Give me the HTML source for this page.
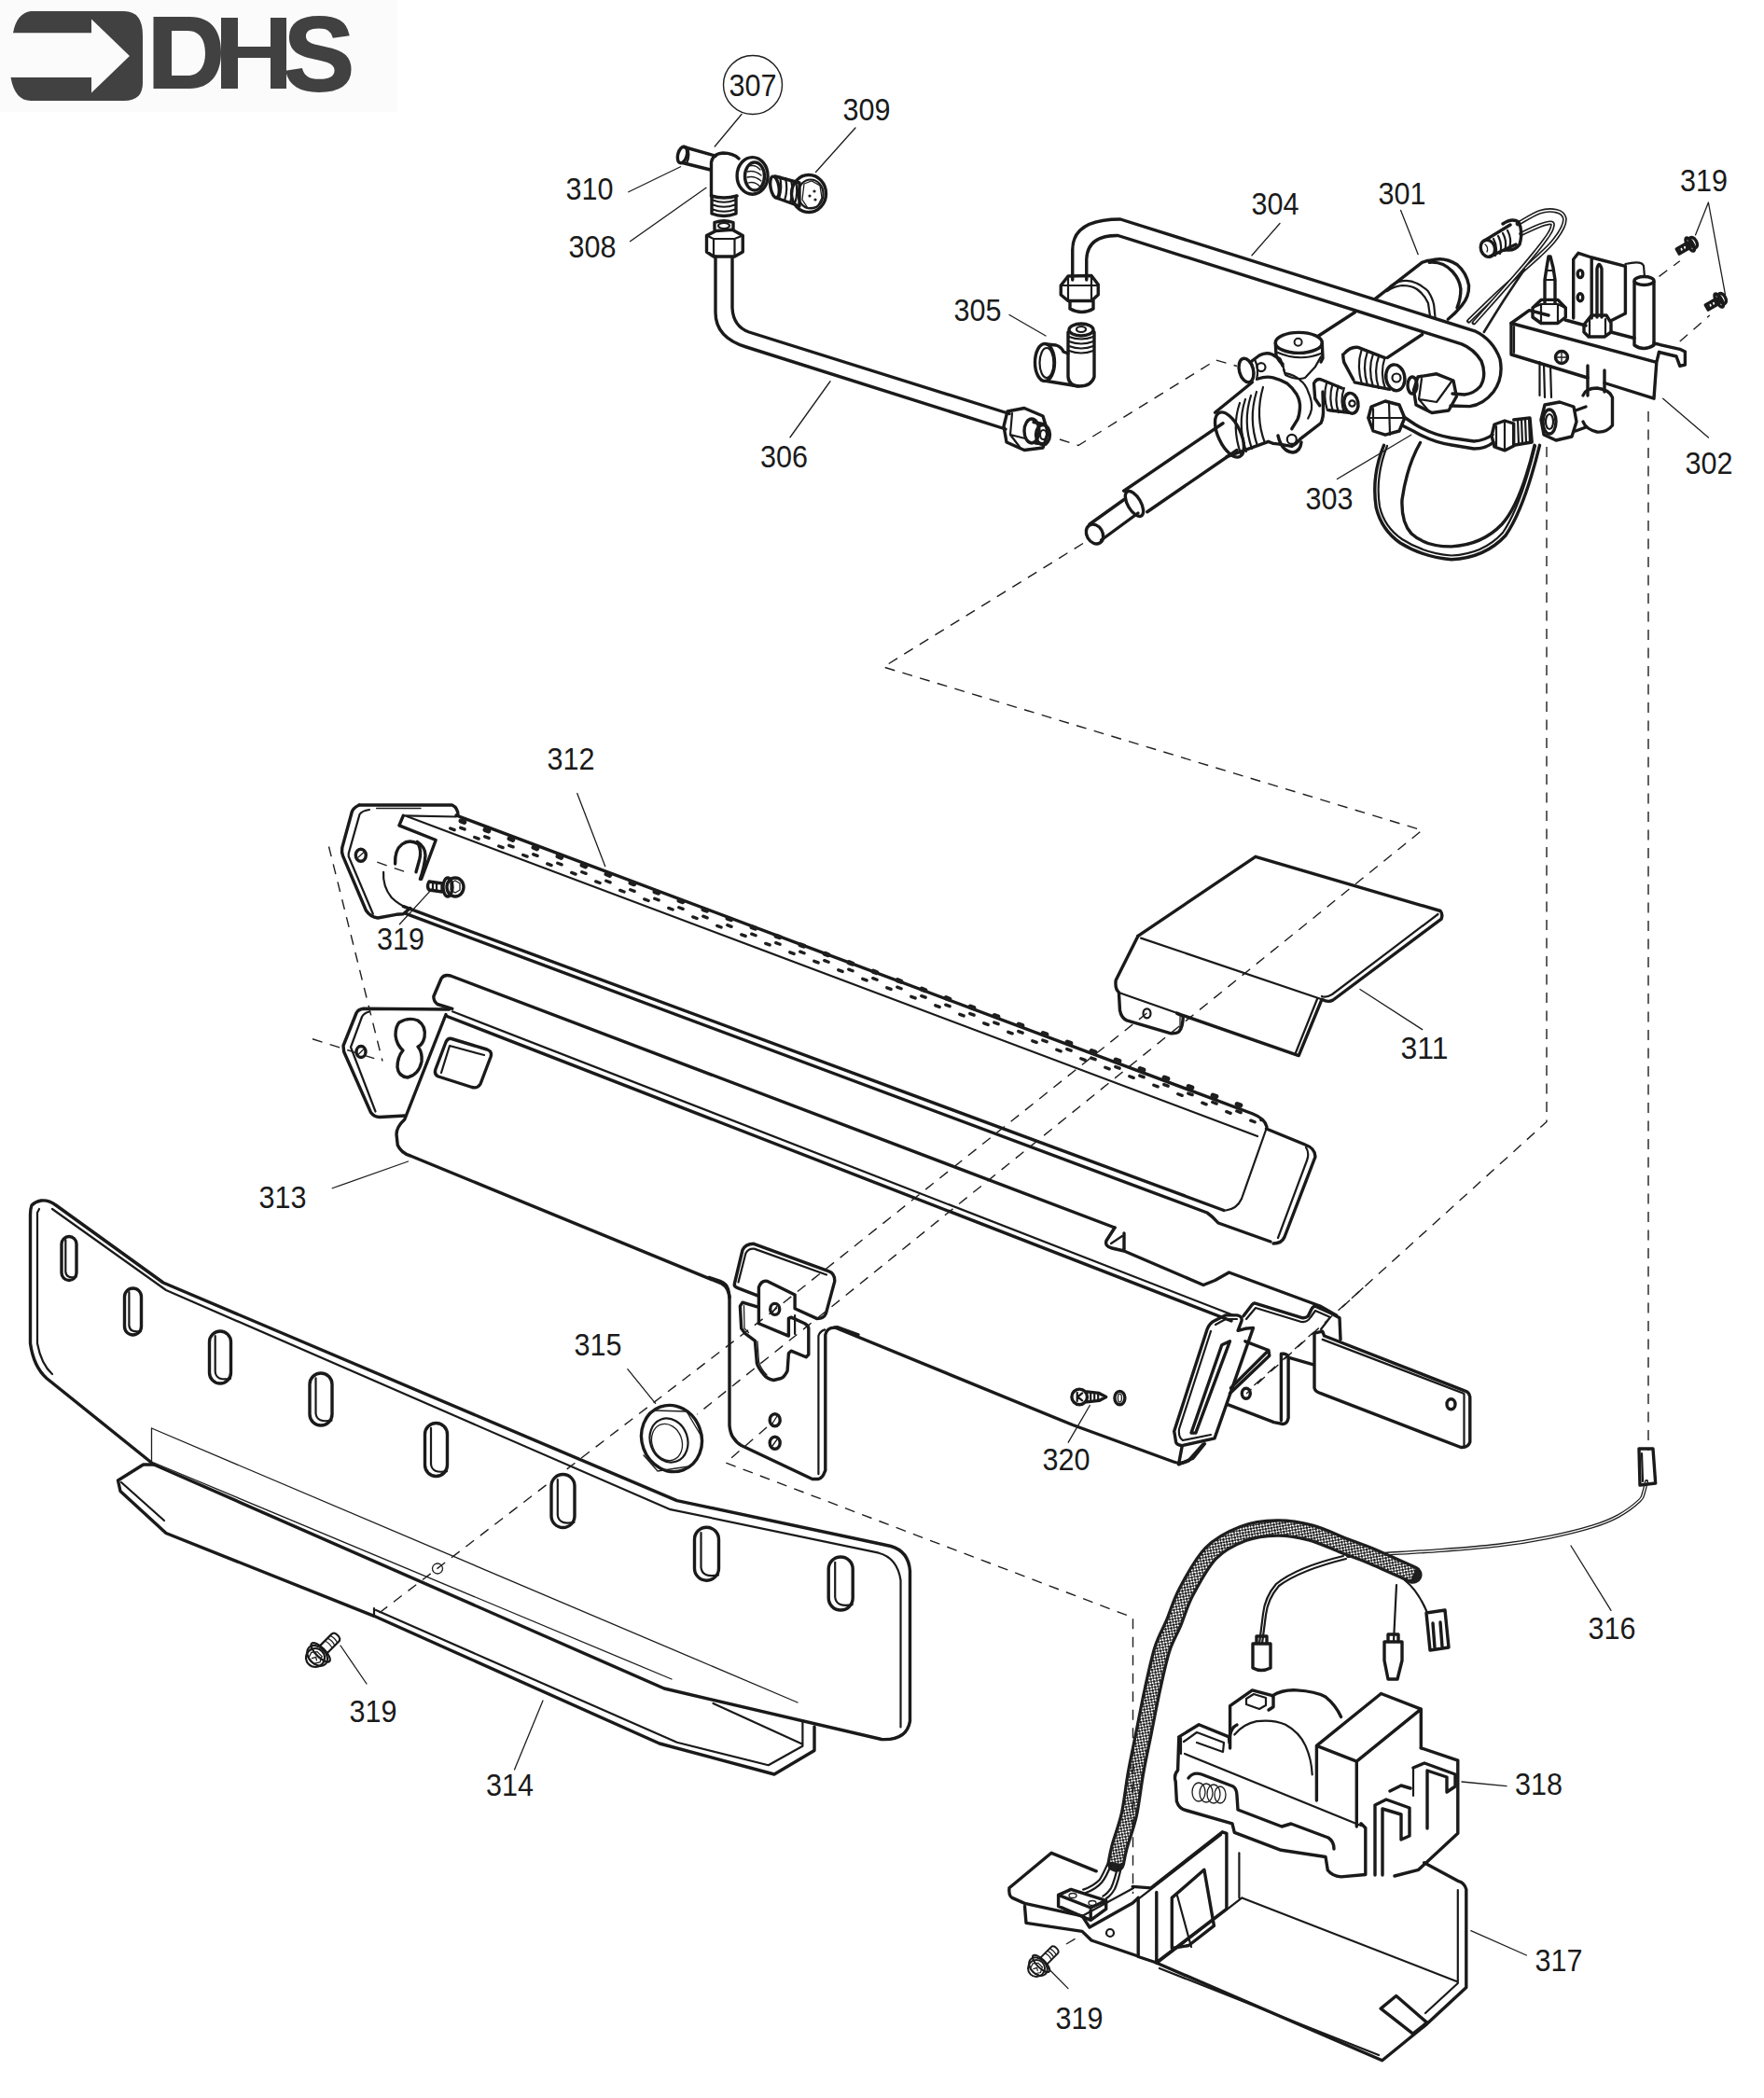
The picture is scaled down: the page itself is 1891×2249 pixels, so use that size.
<!DOCTYPE html>
<html><head><meta charset="utf-8">
<style>
html,body{margin:0;padding:0;background:#fff;}
body{width:1891px;height:2249px;overflow:hidden;}
svg{display:block;}
.k{stroke:#1a1a1a;stroke-width:3.4;fill:none;stroke-linejoin:round;stroke-linecap:round;}
.m{stroke:#1a1a1a;stroke-width:2.2;fill:none;stroke-linejoin:round;stroke-linecap:round;}
.t{stroke:#1e1e1e;stroke-width:1.3;fill:none;stroke-linecap:round;}
.d{stroke:#1e1e1e;stroke-width:1.4;fill:none;stroke-dasharray:11 8.5;}
.w{fill:#fff;}
text{font-family:"Liberation Sans",sans-serif;font-size:32.5px;fill:#1a1a1a;}
</style></head>
<body>
<svg width="1891" height="2249" viewBox="0 0 1891 2249">
<defs>
<pattern id="chk" width="4.4" height="4.4" patternUnits="userSpaceOnUse" patternTransform="rotate(35)">
<rect width="4.4" height="4.4" fill="#fff"/><rect width="2.5" height="2.5" fill="#1a1a1a"/><rect x="2.2" y="2.2" width="2.5" height="2.5" fill="#1a1a1a"/>
</pattern>
</defs>
<rect x="0" y="0" width="1891" height="2249" fill="#fff"/>
<!-- LOGO -->
<g id="logo">
<rect x="0" y="0" width="426" height="120" fill="#fbfbfb"/>
<path fill="#414141" d="M33,12 L133,12 Q153,12 153,38 L153,89 Q153,108 133,108 L33,108 Q16,108 11.5,83 L98,83 L98,99.5 L139,60 L98,20.4 L98,35.2 L14,35.2 Q18,14 33,12 Z"/>
<path fill="#414141" fill-rule="evenodd" d="M164.5,18 L203,18 C229,18 237,36 237,56 C237,79 226,95 203,95 L164.5,95 Z M184,33 L201,33 C215,33 220,44 220,57 C220,71 214,81 201,81 L184,81 Z"/>
<path fill="#414141" d="M237,19 L255,19 L255,50 L290,50 L290,19 L307,19 L307,95 L290,95 L290,62 L255,62 L255,95 L237,95 Z"/>
<text x="304" y="97" style="font-weight:bold;font-size:113px;fill:#414141;stroke:#414141;stroke-width:2" textLength="76" lengthAdjust="spacingAndGlyphs">S</text>
</g>
<!-- CONTENT -->

<g id="main">
<!-- ===== 312 burner ===== -->
<g id="p312">
<!-- end plate -->
<path class="k" d="M385,863 L484.7,863 Q491,866 491,874"/>
<path class="k" d="M385,863 Q378,866 376.8,872 L366.8,908.6 Q366,914 367.5,917.3 L392.4,976 Q397,983 405,984 L424.8,980.3 L432.3,979.7 L439.8,973.5"/>
<path class="m" d="M396,868 Q388,869 385.5,873 L373.7,914.9 L373.7,918 L399.9,979.7"/>
<path class="t" d="M403.6,866.5 L451,866.5"/>
<ellipse class="k" cx="386.8" cy="916.7" rx="5.5" ry="6.5"/>
<path class="t" d="M384,919 L389.5,914"/>
<path class="k" d="M423.6,926 Q423,911 431,905 Q439,899 448.5,904.9 Q452,912 449.8,921 L446,934.8"/>
<path class="k" d="M447.3,902.4 Q456,908 456,917 Q455,930 450.4,942.3"/>
<path class="m" d="M411.1,934.8 Q410,950 419.8,962.2 Q428,970 437.3,973.5"/>
<path class="d" d="M404.3,924.2 L434.8,934.8"/>
<!-- strip flange -->
<path class="k" d="M432.3,874.3 L427.9,884.9 L467.2,900.5 L451.6,942.3"/>
<!-- top line + strip -->
<path class="k" d="M489,874 L1343,1194 Q1356,1199 1358,1208"/>
<path class="m" d="M432.3,874.3 L489,875.5"/>
<path class="m" d="M436,875 L1348,1218"/>
<!-- front face bottom double line -->
<path class="k" d="M432.4,971.7 L1312,1297.5"/>
<path class="k" d="M435.6,979.7 L1294,1300 Q1300,1304 1306,1311 L1362,1331"/>

<g id="perf"><path d="M494.12,879.95 L1352.00,1193.08" stroke="#1e1e1e" stroke-width="5.2" fill="none" stroke-linecap="round" stroke-dasharray="3.80 23.88"/><path d="M493.74,887.31 L1352.00,1200.58" stroke="#1e1e1e" stroke-width="3.4" fill="none" stroke-linecap="round" stroke-dasharray="4.60 23.08"/><path d="M482.74,888.00 L1352.00,1205.28" stroke="#1e1e1e" stroke-width="3.4" fill="none" stroke-linecap="round" stroke-dasharray="4.60 23.08"/></g>
<!-- right end cap -->
<path class="k" d="M1357.5,1210 L1399,1227 Q1410,1231 1410,1240 L1377,1326 Q1374,1333 1365,1333"/>
<path class="m" d="M1400,1230 Q1404,1236 1401,1244 L1370,1327"/>
<path class="m" d="M1357.5,1210 L1331,1285 Q1326,1296 1314,1297.5"/>
</g>
<!-- ===== 313 tray ===== -->
<g id="p313">
<!-- end plate -->
<path class="k" d="M481.6,1082 L389.5,1081.3 Q384,1082 382,1086 L368,1121 L368.7,1127.5 L397.5,1192.5 Q401,1197.5 407,1197.5 L434,1196"/>
<path class="m" d="M396,1084.5 Q390,1086 388,1090 L376,1122.5 L402.5,1191.5"/>
<ellipse class="k" cx="387" cy="1127.5" rx="5" ry="6"/>
<path class="t" d="M384.5,1130 L389.5,1125"/>
<path class="k" d="M428,1096 Q438,1090 448,1094 Q457,1100 455,1112 Q453,1120 448,1122 Q453,1128 452,1138 Q449,1152 437,1155 Q427,1154 426,1144 Q426,1133 432,1126 Q425,1120 424,1110 Q424,1100 428,1096 Z"/>
<!-- lip -->
<path class="k" d="M484.8,1081.3 L468.9,1076.5 Q464.5,1073 464.9,1068 L473,1049 Q476,1044 483,1046 L1195,1316"/>
<!-- lip lines -->
<path class="m" d="M485,1084.3 L1322.5,1410"/>
<path class="k" d="M478,1089 L1320,1416"/>
<!-- front face -->
<path class="k" d="M478,1087.5 L433.75,1200 Q425,1208 425,1216 L426.25,1227.5 Q430,1236 440,1239 L773.6,1376 Q781,1380 782,1391"/>
<!-- square hole -->
<path class="k" d="M484,1113.5 L522,1125 Q528,1127 526,1133 L515,1162 Q512,1167 506,1165.5 L470,1154 Q465,1152 467,1146 L478,1117 Q480,1112.5 484,1113.5 Z"/>
<path class="m" d="M473,1150 L482,1121 L519,1131"/>
<!-- notch + step line -->
<path class="k" d="M1195,1316 L1186,1330 Q1184,1336 1192,1338 L1205,1341 L1205,1322 M1205,1341 L1290,1377.5 L1302.5,1372.5 L1317.5,1364 L1415,1400 L1432.5,1410"/>
<path class="m" d="M1191,1333 L1203,1325"/>
<!-- front bottom after bracket -->
<path class="k" d="M895,1423 L1150,1527.5 L1258,1567 Q1266,1570 1274,1566 L1290,1548"/>
</g>
</g>

<!-- ===== 314 panel ===== -->
<g id="p314">
<path class="k" d="M44,1287 Q38,1288 34,1292 Q32.5,1296 32.5,1302 L32.5,1440 Q36,1465 50,1477.5 L165,1570 L712,1810 L945,1864.5 Q972,1866 975.5,1845 L975.5,1684 Q974,1663 955,1657.5 L946,1655.5 L725.7,1608.6 L175,1375 L60,1292 Q52,1286 44,1287 Z"/>
<path class="m" d="M42,1296 L40,1300 L40,1440 Q44,1462 56,1473 M56,1296 L178,1383 L717.6,1617.8 L942,1664.7 Q962,1670 965.5,1694 L965.5,1851.4"/>
<path class="k" d="M165,1570 L153.6,1570 L126.5,1587 L129,1598.5 L178,1643.5 L401,1732.3 L707,1869 L830,1902 L873,1876.5 L873,1851"/>
<path class="m" d="M130,1589 L176,1630"/>
<path class="m" d="M401,1724 L401,1731 M403,1726 L725.7,1867.8 L823.7,1892.2 L860.4,1871.8 L860.4,1845.3 M764.5,1825.9 L860.4,1869.8"/>
<path class="t" d="M162.5,1531 L162.5,1567 M162.5,1531 L855,1825 M165,1568 L720,1800"/>
<circle class="t" cx="469" cy="1681.5" r="5.5"/><path class="k" d="M66.0,1333.5 A8.0,8.0 0 0 1 82.0,1333.5 L82.0,1364.5 A8.0,8.0 0 0 1 66.0,1364.5 Z"/><path class="m" d="M70.3,1329.1 L70.3,1363.5 Q71.3,1370.9 81.5,1368.9"/><path class="k" d="M133.5,1390.0 A9.0,9.0 0 0 1 151.5,1390.0 L151.5,1422.0 A9.0,9.0 0 0 1 133.5,1422.0 Z"/><path class="m" d="M138.4,1385.0 L138.4,1421.0 Q139.4,1429.2 151.0,1427.0"/><path class="k" d="M224.5,1438.5 A11.5,11.5 0 0 1 247.5,1438.5 L247.5,1471.5 A11.5,11.5 0 0 1 224.5,1471.5 Z"/><path class="m" d="M230.7,1432.2 L230.7,1470.5 Q231.7,1480.7 247.0,1477.8"/><path class="k" d="M332.0,1484.0 A12.0,12.0 0 0 1 356.0,1484.0 L356.0,1516.0 A12.0,12.0 0 0 1 332.0,1516.0 Z"/><path class="m" d="M338.5,1477.4 L338.5,1515.0 Q339.5,1525.6 355.5,1522.6"/><path class="k" d="M455.5,1537.5 A12.0,12.0 0 0 1 479.5,1537.5 L479.5,1570.5 A12.0,12.0 0 0 1 455.5,1570.5 Z"/><path class="m" d="M462.0,1530.9 L462.0,1569.5 Q463.0,1580.1 479.0,1577.1"/><path class="k" d="M591.0,1593.0 A12.5,12.5 0 0 1 616.0,1593.0 L616.0,1625.0 A12.5,12.5 0 0 1 591.0,1625.0 Z"/><path class="m" d="M597.8,1586.1 L597.8,1624.0 Q598.8,1635.0 615.5,1631.9"/><path class="k" d="M744.5,1650.2 A13.0,13.0 0 0 1 770.5,1650.2 L770.5,1681.2 A13.0,13.0 0 0 1 744.5,1681.2 Z"/><path class="m" d="M751.5,1643.0 L751.5,1680.2 Q752.5,1691.6 770.0,1688.4"/><path class="k" d="M888.2,1682.0 A13.0,13.0 0 0 1 914.2,1682.0 L914.2,1713.0 A13.0,13.0 0 0 1 888.2,1713.0 Z"/><path class="m" d="M895.2,1674.8 L895.2,1712.0 Q896.2,1723.4 913.7,1720.2"/></g>
<!-- ===== 315 washer ===== -->
<g id="p315">
<ellipse class="k" cx="720" cy="1542" rx="32" ry="36" transform="rotate(-20 720 1542)"/>
<ellipse class="m" cx="717" cy="1544" rx="20" ry="24" transform="rotate(-20 717 1544)"/>
<ellipse class="t" cx="715" cy="1546" rx="16" ry="20" transform="rotate(-20 715 1546)"/>
<path class="t" d="M700,1512 L736,1513 L752,1540 M690,1560 L705,1577 L738,1572"/>
</g>
<!-- ===== center bracket ===== -->
<g id="cbr">
<path class="k" d="M760,1369.4 L772,1373.4 Q778.7,1376 780.5,1382 L782,1389.4 L782,1528.2 Q783,1537 786,1541 Q790,1547 794.7,1549.5 L870.8,1585.5 L877.4,1585.5 Q882,1584 884,1578 L884.8,1576.2 L884.8,1430.8 Q886,1425 891,1423.6 L897.4,1422.7 L920,1430.8"/>
<path class="m" d="M877.4,1580.2 L877.4,1432.1 Q878.5,1427.5 884.1,1425.4"/>
<path class="k" d="M787.4,1376 L796,1340 Q799,1333.5 808,1333.3 L888.1,1362.7 Q895,1365 894.8,1373.4 L885.4,1408.1 Q883,1413.5 876,1413.6 L852.1,1402.7 L852.1,1388.1 L822.7,1373.4 Q816,1372 813.4,1380 L813.4,1389.4 L790.7,1380.7 Q786.5,1379 787.4,1376 Z"/>
<path class="m" d="M791.5,1374.5 L799.4,1343.5 Q802,1338 808.5,1338.6 L886,1366.5 M852.1,1410 L852.1,1430"/>
<path class="k" d="M813.4,1389.4 L813.4,1418.7 L845.4,1432.1 L845.4,1413.4 L848.1,1412.1 L862.7,1418.7 Q866.8,1421 866.8,1424.1 L866.8,1452.1 L864.1,1454.8 L848.1,1448.1 L845.4,1450.8 L844.1,1469.5 Q841,1476 837.4,1477.5 L829.4,1479.5 Q822,1478 818.7,1473.5 Q812.5,1466 811.4,1461.4 L809.4,1437.4 L798.7,1429.4 L794.7,1424.1 L793.4,1400.1 L796,1396.1 L813.4,1401.4"/>
<path class="t" d="M797.5,1399.5 L798,1424 L802.5,1428.5 M812,1438 L813.5,1460 Q816,1468 822,1474"/>
<ellipse class="k" cx="830.7" cy="1403.4" rx="5" ry="6"/>
<ellipse class="k" cx="830.7" cy="1522.2" rx="5.5" ry="6.5"/>
<ellipse class="k" cx="830.7" cy="1546.8" rx="5.5" ry="6.5"/>
<path class="t" d="M828,1407 L833,1400 M828,1526 L833,1518 M828,1550 L833,1543"/>
</g>
<!-- ===== 311 plate ===== -->
<g id="p311">
<path class="k" d="M1219.9,1003.4 L1345.9,918.3 L1544.1,976.5 Q1547,980 1545.1,985.1 L1429,1072 Q1424,1075 1417,1071.3 L1392.2,1131.6 L1261.9,1086.3"/>
<path class="k" d="M1219.9,1003.4 L1196.2,1050.8 Q1195,1060 1199.4,1063.7 L1200.5,1083.1 Q1202,1091 1208,1093.9 L1255.4,1107.9 Q1262,1108 1264,1105.7 Q1268,1101 1268.3,1089.6 L1261.9,1086.3"/>
<path class="m" d="M1223.1,1005.6 L1417,1071.3 M1199.4,1064 L1262,1086 M1388.6,1129.5 L1412,1071 M1541.5,980 L1428,1066 Q1421,1070 1417,1068"/>
<ellipse class="m" cx="1229.5" cy="1086.3" rx="4" ry="5"/>
<path class="t" d="M1265,1090 L1265,1104"/>
<path class="t" d="M1145.2,1546.2 L1168.3,1506.5"/>
</g>

<!-- ===== 313 right bracket ===== -->
<g id="rbr">
<path class="k" d="M1302,1415.7 L1313.6,1409.9 L1326.1,1409.9 Q1332,1411 1331,1416 L1327.1,1426.3 L1334.8,1424.3 L1343.5,1423.4 L1302,1541.9 L1267.3,1549.6 Q1261,1549 1260.6,1545.8 L1258.7,1534.2 L1294.3,1424.3 Q1297,1418 1302,1415.7 Z"/>
<path class="m" d="M1303,1420 L1314,1414 L1326,1414 M1298,1427 L1264,1532 Q1263,1541 1268,1544 L1298,1538"/>
<path class="k" d="M1309.8,1441.7 L1318.4,1437.8 L1281.8,1536.1 L1277,1536.1 Z"/>
<path class="k" d="M1267.3,1549.6 L1263.5,1569.9 L1278.9,1563.1 L1291.4,1547.7"/>
<path class="k" d="M1332.9,1410.8 L1342.5,1398.3 Q1344,1396.5 1346.4,1397.3 L1396.5,1412.8 Q1400,1413 1402.3,1410.8 L1406.1,1403.1 Q1408,1400 1410,1400.2 L1427.3,1407.9 L1436,1412.8 L1437,1435.9"/>
<path class="m" d="M1336,1414 L1346,1402 L1395,1417 Q1401,1418 1405,1412 L1410,1405 L1426,1412 L1416,1425"/>
<path class="k" d="M1417.7,1427.2 L1409,1429.2 L1409,1487.9 Q1410,1492 1415.8,1493.7 L1566.1,1551.5 Q1574,1552 1575.8,1545.8 L1575.8,1497.6 Q1575,1492 1570,1490.8 L1419.6,1432 Z"/>
<path class="m" d="M1417.7,1435.9 L1569,1493.7 M1569.5,1494 L1569.5,1550"/>
<ellipse class="k" cx="1555.5" cy="1505.3" rx="4.5" ry="5.5"/>
<path class="k" d="M1373.4,1451.3 L1377.2,1451.3 Q1381,1452 1381.1,1456 L1381.1,1520 Q1380,1526 1375.3,1526.5 L1365.6,1524.6 L1315.5,1505.3 M1373.4,1451.3 L1373.4,1522.6 M1381.1,1455.2 L1408,1462.9"/>
<path class="k" d="M1319.4,1487.9 L1359.9,1447.5 L1360.8,1453.2 L1318.4,1493.7 M1334.8,1437.8 L1359.9,1447.5"/>
<ellipse class="k" cx="1335.8" cy="1493.7" rx="4.5" ry="5.5"/>
<path class="d" d="M1438.9,1401.2 L1462,1380 M1344.4,1485 L1408,1428.2"/>
</g>


<!-- ===== 307-310 tee ===== -->
<g id="tee">
<path class="k" d="M733,157.5 L767,167.2 M731.5,174.5 L761.5,182"/>
<ellipse class="k" cx="731.5" cy="166" rx="4.8" ry="9" transform="rotate(15 731.5 166)"/>
<path class="m" d="M736.5,158 Q740.5,166 736,175"/>
<path class="k" d="M762.5,210 L762.5,174 Q764,165 775,164 Q786,164 792,170"/>
<path class="k" d="M762.5,210 Q776,214 790,210 M763,210 L763,229 Q776,234 789,229 L789,210"/>
<path class="m" d="M764,214.5 Q776,219 788,214.5 M764,219.5 Q776,224 788,219.5 M764,224.5 Q776,229 788,224.5"/>
<ellipse class="k" cx="806.6" cy="188.4" rx="16.5" ry="19.8" fill="#fff"/>
<ellipse class="k" cx="809" cy="189" rx="10.5" ry="15"/>
<path class="t" d="M803,178 Q810,176 815,182 M801,184 Q809,182 816,188 M801,190 Q809,188 816,194 M802,196 Q809,194 815,200"/>
<!-- nut -->
<path class="k" d="M766,238.5 Q776,235 786,238.5 L786,246 M766,238.5 L766,246"/>
<ellipse class="m" cx="776" cy="242" rx="6" ry="3"/>
<path class="k" d="M757.5,252.5 L767.5,247.5 L785,246.25 L796.25,252.5 L796.25,270 L787.5,275 L765,275 L757.5,270 Z"/>
<path class="m" d="M765,256 L765,275 M787.5,256 L787.5,275 M757.5,252.5 L765,256 L787.5,256 L796,252.5"/>
</g>
<!-- 309 screw -->
<g id="s309">
<path class="k" d="M831,189 L857,196 L857,221 L832,212"/>
<ellipse class="k" cx="830.5" cy="200.5" rx="4.5" ry="11.5" transform="rotate(-10 830.5 200.5)"/>
<path class="m" d="M836,189.5 Q839,201 835,213 M842,191 Q845,203 841,215 M848,193 Q851,205 847,217 M853,194.5 Q856,206 852,218.5"/>
<ellipse class="k" cx="867" cy="207.5" rx="18.5" ry="20" fill="#fff"/>
<ellipse class="m" cx="869" cy="208" rx="13.5" ry="15.5"/>
<path class="t" d="M862,197 L870,194 L879,199 L881,212 L876,222 L866,223 L860,214 Z"/>
<circle cx="873" cy="205" r="1.6" fill="#222"/><circle cx="868" cy="210" r="1.6" fill="#222"/><circle cx="874" cy="214" r="1.6" fill="#222"/>
</g>
<!-- 306 tube -->
<g id="t306">
<path class="k" d="M767,275 L767,335 Q767,362 800,372 L1078,460"/>
<path class="k" d="M785,276 L785,330 Q786,350 803,356 L1082,443.5"/>
<path class="k" d="M1080,441 L1098,437.5 L1118,446 L1123.5,464 L1118,480 L1098,482.5 L1079,474 L1076,457 Z"/>
<path class="m" d="M1085,443 L1083,466 L1093,479 M1083,466 L1099,470"/>
<ellipse class="k" cx="1106" cy="462" rx="8" ry="13"/>
<path class="k" d="M1108,452.5 L1120,455 M1110,475 L1121,476"/>
<ellipse class="k" cx="1118" cy="466" rx="7.5" ry="10.5"/>
<ellipse class="m" cx="1118.5" cy="466" rx="3.5" ry="5"/>
</g>
<!-- 305 elbow -->
<g id="e305">
<path class="k" d="M1145,356 L1145,404 Q1146,414 1157,414 Q1170,414 1173,404 L1173,356"/>
<ellipse class="k" cx="1159" cy="353.5" rx="13" ry="6.5"/>
<ellipse class="m" cx="1159" cy="353" rx="5" ry="3"/>
<path class="m" d="M1146,361 Q1159,366 1172,361 M1146,366 Q1159,371 1172,366 M1146,371 Q1159,376 1172,371 M1146,376 Q1159,381 1172,376"/>
<ellipse class="k" cx="1120" cy="388.5" rx="10.5" ry="20" fill="#fff"/>
<ellipse class="m" cx="1122" cy="389" rx="7.5" ry="16"/>
<path class="k" d="M1122,369 L1132,370 Q1138,372 1140,377 L1145,379 M1122,408.5 L1156,414"/>
</g>
<!-- 304 tube -->
<g id="t304">
<path class="k" d="M1149.75,300 L1149.75,267.5 Q1150,235 1201,235 L1580.9,354.8 Q1600.4,364 1608,385 Q1612,405 1601,420 Q1590,434 1575.4,435.6 L1555,435"/>
<path class="k" d="M1164.75,300 L1164.75,277.5 Q1166,252 1198.5,252.5 L1567,368.8 Q1580,374 1588,387 Q1594,402 1587,414 Q1580,422 1570,423 L1557,422"/>
<path class="k" d="M1137.25,306 L1145,296 L1170,295.5 L1177.25,305 L1177.25,316 L1170,322.5 L1145,322.5 L1137.25,316 Z"/>
<path class="m" d="M1145,296.5 L1145,322.5 M1170,296 L1170,322.5 M1137.5,306 L1177,306"/>
<path class="k" d="M1147,322.5 L1147,331 Q1160,338 1172,331 L1172,322.5"/>
<!-- end nut -->
<path class="k" d="M1520,404 L1540,400.8 L1558,408 L1561.4,425 L1553,440 L1535,442.5 L1518,434 L1515.5,418 Z"/>
<path class="m" d="M1524,406 L1521,428 L1532,441 M1521,428 L1540,431 L1556,409"/>
<ellipse class="k" cx="1514" cy="413" rx="5" ry="9"/>
</g>
<!-- 301 valve -->
<g id="v301">
<ellipse class="k" cx="1173.5" cy="572.5" rx="8.5" ry="11" transform="rotate(-30 1173.5 572.5)" fill="#fff"/>
<path class="k" d="M1168,562 L1205,535.5 M1180.5,579 L1220,550"/>
<ellipse class="k" cx="1216" cy="540" rx="7" ry="15" transform="rotate(-30 1216 540)"/>
<path class="k" d="M1204.75,526.25 L1311,453.75 M1229.75,548.75 L1326,482.5"/>
<ellipse class="k" cx="1318" cy="466" rx="12" ry="26" transform="rotate(-25 1318 466)" fill="#fff"/>
<!-- valve body -->
<path class="k" d="M1302.5,442.2 L1342.4,409.8 M1315,489.6 L1359.8,473.4"/>
<path class="m" d="M1329,432 Q1320,458 1330,486 M1335,428 Q1326,455 1336,484 M1341,424 Q1332,452 1342,481 M1347,420 Q1338,449 1348,478 M1354,415 Q1345,446 1356,475"/>
<path class="k" d="M1348.6,406 Q1357,403 1364.8,404.8 Q1373,407 1379.8,411 Q1386,416 1389.8,422.3 Q1394,430 1393.5,437.3 Q1393,445 1391,449.7 L1384.8,459.7"/>
<path class="m" d="M1374.8,389.9 L1377.3,399.8 Q1388,402 1393.5,407.3 Q1400,412 1402.2,419.8 Q1407,430 1406,438.5 Q1405,444 1402.2,448.5"/>
<path class="k" d="M1359.8,473.4 Q1365,476 1369.8,475.9 L1384.8,478.4 Q1390,476 1393.5,470.9 L1416,453.5 Q1419,447 1418.5,438.5 L1418,420"/>
<!-- cap -->
<path class="k" d="M1367.3,368 L1368,381 Q1372,389 1375,390 M1417.3,368 L1418,384 L1416,388"/>
<ellipse class="k" cx="1392.3" cy="367.4" rx="25" ry="11" fill="#fff"/>
<path class="m" d="M1370,378 Q1393,388 1416,379"/>
<circle cx="1391.6" cy="366.8" r="4" fill="none" stroke="#1e1e1e" stroke-width="2"/>
<path class="m" d="M1376,396 L1378,402 Q1390,408 1399,405 L1409.7,393.6 L1416,382.4"/>
<!-- left fitting & ear -->
<ellipse class="k" cx="1336" cy="397" rx="7.5" ry="13" transform="rotate(-15 1336 397)"/>
<path class="m" d="M1341,387 Q1346,397 1342,409 M1345,385 Q1350,396 1347,407"/>
<path class="k" d="M1342,387 L1350,381 Q1357,377 1364,380 L1372,385 L1375,392"/>
<circle class="m" cx="1352" cy="393.6" r="4.5"/>
<circle class="m" cx="1384.8" cy="470.9" r="5"/>
<path class="k" d="M1370,467 Q1374,484 1386,485 Q1394,484 1395,474"/>
<!-- right fittings -->
<path class="k" d="M1439.7,379.9 Q1440,386 1440.9,388.6 L1450.9,407.3 M1441,379 Q1448,371 1455.9,372.4 L1484.6,383.6 M1452.1,409.8 L1489.6,417.3"/>
<ellipse class="k" cx="1495.8" cy="404.8" rx="10" ry="14" transform="rotate(-10 1495.8 404.8)" fill="#fff"/>
<circle class="m" cx="1497" cy="405" r="4.5"/>
<path class="m" d="M1459.6,375 Q1454,392 1460,412 M1465.9,377 Q1460,394 1466,413 M1472.1,379 Q1466,396 1472,414.5 M1478.3,381 Q1472,398 1478,416 M1484.6,383 Q1479,400 1485,416.5"/>
<path class="k" d="M1408.5,411 L1409.7,427.3 L1414.7,434.8 M1409,410 Q1412,405 1417.2,407.3 L1438.4,416 M1424.7,439.7 L1445.9,442.2"/>
<ellipse class="k" cx="1448.4" cy="432.3" rx="7.5" ry="11" transform="rotate(-10 1448.4 432.3)" fill="#fff"/>
<circle class="m" cx="1449.5" cy="432.5" r="3.2"/>
<path class="m" d="M1422.2,410 Q1418,425 1423,440 M1428.4,412 Q1424,427 1429,441 M1434.7,414 Q1430,429 1435,442 M1440.9,416 Q1436,430 1441,442"/>
<!-- magnet cylinder -->
<path class="k" d="M1413.5,360 L1452.4,334.8 M1474.8,319.8 L1524.7,281.2 Q1530,279 1536,279 M1487.3,383.4 L1524.7,358.5"/>
<path class="k" d="M1532.2,279.9 Q1547,274 1562.1,283.7 Q1572,292 1574.6,306 Q1575,318 1567.1,327.3 Q1560,336 1552.2,342.3"/>
<path class="k" d="M1532.2,281.2 Q1547,280 1557,291 Q1565,300 1565.9,309.8 Q1566,320 1562,330"/>
<path class="m" d="M1489.8,307.3 Q1496,302 1503.5,301.1 Q1512,300 1518.5,303.6 Q1527,308 1531,312.3 Q1536,320 1537.2,327.3 L1538.5,339.8 M1487,312 Q1494,307 1503,306 Q1513,306 1519,310 Q1527,316 1531,325 L1533,339"/>
</g>

<!-- ===== 302 pilot ===== -->
<g id="p302">
<path class="k" d="M1620,346.5 L1639.4,332.6 L1660,338 M1678,343 L1700,349 M1727,356 L1752,362.5 M1773,368 L1800.8,374.3 L1806.4,377 L1806.4,391 L1800.8,392.4 L1797,382 L1778.5,377.5"/>
<path class="k" d="M1620,346.5 L1775.8,388.3 L1778.5,377.5 M1620,346.5 L1620,380 L1702,405 M1720,410.5 L1773,427.2 L1775.8,388.3"/>
<path class="m" d="M1623,350 L1623,378"/>
<!-- electrode -->
<path class="k" d="M1656,325 L1656,300 L1658,287 L1660,275 L1662,275 L1665,287 L1667,300 L1667,325"/>
<path class="m" d="M1657,300 L1666,300 M1658,290 L1665,290"/>
<path class="k" d="M1643,330 L1652,321.4 L1670,321.4 L1678.3,330 L1678.3,340 L1670,346.5 L1652,346.5 L1643,340 Z"/>
<path class="m" d="M1652,326 L1652,346 M1670,326 L1670,346 M1643,330 L1652,326 L1670,326 L1678,330"/>
<!-- hood -->
<path class="k" d="M1686.7,341 L1686.7,278 L1692,271.3 L1706.2,276 L1742.4,285.3 L1742.4,336 L1727,343.7 M1706.2,276 L1706.2,341"/>
<ellipse class="k" cx="1694" cy="293.6" rx="2.8" ry="4"/>
<ellipse class="k" cx="1694" cy="318.7" rx="2.8" ry="4"/>
<path class="k" d="M1712,340 L1712,288 Q1714,279 1717,288 L1717,340"/>
<path class="k" d="M1698,348 L1706,338 L1722,338 L1727,346 L1727,356 L1720,361 L1703,361 L1698,356 Z"/>
<path class="m" d="M1704,342 L1704,360 M1721,342 L1721,360"/>
<!-- thermocouple tube -->
<path class="k" d="M1752,302 L1752,370 Q1762,377 1773,370 L1773,302"/>
<ellipse class="k" cx="1762.5" cy="301" rx="10.5" ry="4.5"/>
<path class="m" d="M1742.4,283 Q1760,279 1762,285 L1763,297"/>
<!-- lower stem & elbow -->
<path class="k" d="M1702,392 L1702,424 M1720,397 L1720,420"/>
<path class="k" d="M1697,424 Q1700,416 1712,416 Q1726,418 1728.5,426 L1728.5,456 Q1722,464 1712,463 Q1700,460 1697,452"/>
<path class="k" d="M1689,440 L1700,436 M1689,462 L1700,458"/>
<path class="k" d="M1656,434 L1672,431 L1687,436 L1690,452 L1685,468 L1668,472 L1655,466 L1652,450 Z"/>
<ellipse class="k" cx="1661" cy="452" rx="7" ry="13" fill="#fff"/>
<ellipse class="m" cx="1661" cy="452" rx="4" ry="8"/>
<!-- bracket screw -->
<circle class="k" cx="1674" cy="383" r="6.5"/>
<path class="t" d="M1669,383 L1679,383 M1674,378 L1674,388"/>
<!-- wires under bracket -->
<path class="m" d="M1650.5,388 L1650.5,424 M1655,390 L1656,426 M1662,392 L1663,426"/>
<!-- screws 319 -->
<g transform="translate(1810,263) rotate(-30)"><path class="k" d="M-13,-3 L0,-3 L0,3 L-13,3 Z"/><path class="m" d="M-10,-3 L-11,3 M-6,-3 L-7,3 M-2,-3 L-3,3"/><ellipse class="k" cx="2" cy="0" rx="3" ry="8"/><ellipse class="k" cx="6" cy="0" rx="3.5" ry="6" fill="#fff"/></g>
<g transform="translate(1841,323) rotate(-30)"><path class="k" d="M-13,-3 L0,-3 L0,3 L-13,3 Z"/><path class="m" d="M-10,-3 L-11,3 M-6,-3 L-7,3 M-2,-3 L-3,3"/><ellipse class="k" cx="2" cy="0" rx="3" ry="8"/><ellipse class="k" cx="6" cy="0" rx="3.5" ry="6" fill="#fff"/></g>
</g>
<!-- ===== 303 tube ===== -->
<g id="t303">
<path class="k" d="M1470,436 L1485,430 L1500,434 L1505.8,448 L1500,462 L1485,466.2 L1472,462 L1466.8,448 Z"/>
<path class="m" d="M1472,438 L1472,460 M1489,431 L1490,466 M1466.8,448 L1505,448"/>
<path class="k" d="M1505,447 L1517,455 Q1535,466 1556,469.5 L1580,473 Q1592,472 1600,466 M1503,456 L1515,462 Q1535,474 1556,477 L1580,481 Q1593,481 1601,474"/>
<path class="k" d="M1602,455 L1613,451 L1622.7,454 L1622.7,478 L1613,482.9 L1602,479 L1599,467 Z"/>
<path class="m" d="M1604,457 L1604,478 M1613,452 L1613,482"/>
<path class="k" d="M1622.7,450 L1640,448 L1642.2,474 L1622.7,477.3"/>
<path class="m" d="M1627,449 L1628,476 M1631,449 L1632,476 M1635,448.5 L1636,475 M1639,448 L1640,475"/>
</g>
<!-- thermocouple wires -->
<g id="wires">
<path class="k" d="M1483.5,477.3 Q1470,510 1475.2,544 Q1481,568 1501,582 Q1525,597 1555.9,599.8 Q1592,598 1614,574 Q1634,545 1650.5,477.3"/>
<path class="m" d="M1487,478 Q1474,511 1479,543 Q1484,565 1503,578 Q1526,593 1556,595.5 Q1590,594 1611,571 Q1630,543 1646,478"/>
<path class="k" d="M1522.5,474.5 Q1508,500 1503,535.8 Q1502,560 1513,572 Q1528,586 1555.9,585.9 Q1589,584 1610,562 Q1630,540 1645,477.3"/>
<!-- upper wires -->
<path d="M1627.1,239.9 C1631.0,237.8 1643.8,229.5 1650.7,227.2 C1657.7,224.9 1664.4,225.3 1668.8,226.3 C1673.2,227.3 1676.0,230.1 1677.0,233.0 C1678.0,235.9 1677.0,239.7 1675.0,244.0 C1673.0,248.3 1669.0,254.1 1665.0,259.0 C1661.0,263.9 1656.1,268.4 1650.7,273.5 C1645.3,278.6 1640.1,283.0 1632.6,289.8 C1625.0,296.6 1615.1,305.2 1605.4,314.3 C1595.7,323.4 1579.7,339.2 1574.5,344.2" fill="none" stroke="#1e1e1e" stroke-width="4.8" stroke-linecap="round"/><path d="M1627.1,239.9 C1631.0,237.8 1643.8,229.5 1650.7,227.2 C1657.7,224.9 1664.4,225.3 1668.8,226.3 C1673.2,227.3 1676.0,230.1 1677.0,233.0 C1678.0,235.9 1677.0,239.7 1675.0,244.0 C1673.0,248.3 1669.0,254.1 1665.0,259.0 C1661.0,263.9 1656.1,268.4 1650.7,273.5 C1645.3,278.6 1640.1,283.0 1632.6,289.8 C1625.0,296.6 1615.1,305.2 1605.4,314.3 C1595.7,323.4 1579.7,339.2 1574.5,344.2" fill="none" stroke="#fff" stroke-width="1.5"/>
<path d="M1630.7,250.8 C1634.0,249.3 1645.2,243.7 1650.7,241.7 C1656.2,239.7 1661.3,238.4 1663.4,239.0 C1665.5,239.6 1664.1,242.8 1663.5,245.0 C1662.9,247.2 1662.5,248.0 1659.8,252.0 C1657.1,256.0 1653.1,261.5 1647.1,269.0 C1641.0,276.5 1634.7,284.3 1623.5,297.1 C1612.3,309.9 1587.2,337.9 1580.0,346.0" fill="none" stroke="#1e1e1e" stroke-width="4.8" stroke-linecap="round"/><path d="M1630.7,250.8 C1634.0,249.3 1645.2,243.7 1650.7,241.7 C1656.2,239.7 1661.3,238.4 1663.4,239.0 C1665.5,239.6 1664.1,242.8 1663.5,245.0 C1662.9,247.2 1662.5,248.0 1659.8,252.0 C1657.1,256.0 1653.1,261.5 1647.1,269.0 C1641.0,276.5 1634.7,284.3 1623.5,297.1 C1612.3,309.9 1587.2,337.9 1580.0,346.0" fill="none" stroke="#fff" stroke-width="1.5"/>
<path d="M1634.0,289.0 C1630.3,294.5 1619.2,310.8 1612.0,322.0 C1604.8,333.2 1594.3,350.3 1590.8,356.0" fill="none" stroke="#1e1e1e" stroke-width="2.6" stroke-linecap="round"/>
<!-- connector plug -->
<path class="k" d="M1592,257.5 L1619,241 M1597,275 L1625,262" />
<path class="k" d="M1611,240 Q1621,233 1628,238 Q1633,248 1629,262 Q1624,269 1615,268"/>
<ellipse class="k" cx="1594.9" cy="266.3" rx="7.5" ry="9.2" transform="rotate(-20 1594.9 266.3)" fill="#fff"/>
<path class="m" d="M1601,256 Q1606,265 1603,274 M1606,253 Q1611,262 1608,272 M1611,250 Q1616,259 1613,269 M1616,247 Q1621,256 1618,266"/>
<path class="t" d="M1592,262 Q1596,265 1594,270"/>
</g>

<!-- ===== 316-318 ===== -->
<g id="p317">
<!-- base tray -->
<path class="k" d="M1238.3,2103.5 L1481.7,2208.7 L1529.7,2169.6 L1571.8,2130.5 L1571.8,2025.4 Q1570,2018 1562.8,2016.3 L1526.7,1996.8"/>
<path class="m" d="M1243,2110 L1478,2203 M1562.8,2026 L1562.8,2126 L1528,2158 M1331.4,2034.4 L1562.8,2124.5 M1328.4,1986.3 L1328.4,2034.4 M1240,2105 L1331.4,2034.4"/>
<path class="k" d="M1480.2,2153.1 L1496.7,2139.5 L1529.7,2168.1 L1514.7,2180.1 Z"/>
<!-- vertical wall -->
<path class="k" d="M1214.2,2022.4 L1233.8,2023.9 L1310.4,1963.8 L1314.9,1965.3 L1314.9,2046.4 L1239.8,2103.5 M1220.2,2034.4 L1220.2,2097.5 L1238.3,2103.5 M1239.8,2028.4 L1239.8,2103.5"/>
<path class="m" d="M1222,2034.4 L1309,1967"/>
<path class="k" d="M1256.3,2034.4 L1290.9,2004.3 L1301.4,2064.4 L1274.3,2085.5 L1256.3,2088.5 Z"/>
<path class="m" d="M1262,2032 L1277,2087"/>
<!-- flap -->
<path class="k" d="M1082,2023.8 L1127.1,1986.3 L1175.2,2005.8 M1082,2023.8 Q1081,2032 1085,2034.4 L1098.5,2040.4 L1160.1,2053.9 L1168,2066 L1214.2,2040 L1220.2,2034.4"/>
<path class="k" d="M1098.5,2043.4 L1100,2061.4 L1160.1,2070.4 L1170,2080 L1220,2097"/>
<path class="m" d="M1160,2054 L1215,2024"/>
<!-- terminal block -->
<path class="k" d="M1134.6,2031.4 L1148.1,2025.4 L1185.7,2037.4 L1185.7,2046.4 L1169.2,2058.4 L1134.6,2043.4 Z M1134.6,2031.4 L1169.2,2045 L1185.7,2037.4 M1169.2,2045 L1169.2,2058.4"/>
<ellipse class="t" cx="1150" cy="2032" rx="4" ry="2.5"/><ellipse class="t" cx="1171" cy="2040" rx="4" ry="2.5"/>
<circle class="m" cx="1190" cy="2072" r="4"/>
</g>
<!-- 318 solenoid -->
<g id="p318">
<!-- back frame -->
<path class="k" d="M1318.6,1874 L1318.6,1828.6 L1342.4,1811.9 L1365,1817.9 L1365,1829.8 L1360,1833"/>
<path class="m" d="M1336,1821 L1344,1816 L1357,1820 L1357,1828 L1350,1832 L1336,1827 Z"/>
<!-- coil -->
<path class="k" d="M1363.8,1817.9 Q1375,1811 1390,1811.9 Q1410,1813 1421,1819 Q1432,1828 1437.6,1840.5"/>
<path class="m" d="M1323.3,1859.5 Q1333,1848 1347.1,1845.2 Q1365,1843 1378,1848.8 Q1393,1857 1399.5,1871.4 Q1406,1886 1406.7,1902.4"/>
<path class="k" d="M1318.6,1860 Q1320,1852 1326,1849"/>
<!-- transformer box -->
<path class="k" d="M1411.4,1871.4 L1480.5,1815.5 L1523.3,1832.1 L1523.3,1873.8 M1411.4,1871.4 L1454.3,1888.1 L1523.3,1832.1 M1454.3,1888.1 L1454.3,1958 M1411.4,1871.4 L1411.4,1930"/>
<!-- lever -->
<path class="k" d="M1263.8,1861.9 L1285.2,1848.8 L1317.4,1861.9 L1318,1868 M1263.8,1861.9 L1262.6,1897.6 Q1258,1903 1260.2,1909.5 L1261.4,1931 Q1264,1939 1271,1940.5 L1321,1954.8 L1323.3,1964.3 L1373.3,1983.3 L1421,1990.5 L1423.3,2004.8 Q1428,2011 1437.6,2011.9 L1463.8,2009.5 L1463.8,1959.5 L1459,1954.8"/>
<path class="m" d="M1269,1867 L1283,1857 L1312,1868 L1311,1878 L1283,1868 M1270,1880 L1459,1957 M1266,1863 L1266,1880"/>
<path class="k" d="M1274,1906 Q1279,1899 1288,1902 L1322,1915 Q1326,1918 1326,1925 L1327,1940 L1374,1958 L1384,1955 L1424,1970 Q1430,1974 1430,1982"/>
<!-- spring -->
<ellipse class="t" cx="1285" cy="1921" rx="7" ry="10"/>
<ellipse class="t" cx="1293" cy="1922" rx="7" ry="10"/>
<ellipse class="t" cx="1301" cy="1923" rx="7" ry="10"/>
<ellipse class="t" cx="1308" cy="1924" rx="6" ry="9"/>
<!-- right channel & fingers -->
<path class="k" d="M1523.3,1873.8 L1562.8,1887.1 L1562.8,1965.3 L1520.7,2004.3 L1495,2011"/>
<path class="k" d="M1474,1935 L1486,1929 L1511,1938 L1511,1968 L1502,1972 L1502,1945 L1482,1939 L1482,2010 M1474,1935 L1474,2010"/>
<path class="k" d="M1490,1920 L1502,1914 L1512,1917 M1515,1895 L1527,1890 L1560,1902 L1560,1915 L1551,1921 L1551,1905 L1530,1898 L1530,1960"/>
<path class="m" d="M1515,1895 L1515,1925"/>
</g>
<!-- cable & wires -->
<g id="cable">
<path d="M1765.0,1588.0 C1764.5,1590.0 1763.2,1596.6 1762.0,1600.0 C1760.8,1603.4 1762.1,1604.4 1757.6,1608.6 C1753.1,1612.8 1743.4,1620.4 1735.0,1625.0 C1726.6,1629.6 1719.5,1632.6 1707.0,1636.4 C1694.5,1640.2 1676.8,1644.6 1660.0,1648.0 C1643.2,1651.4 1625.2,1654.3 1606.0,1656.6 C1586.8,1658.9 1565.2,1660.5 1545.0,1662.0 C1524.8,1663.5 1501.5,1664.7 1484.8,1665.7 C1468.1,1666.7 1451.6,1667.6 1445.0,1668.0" fill="none" stroke="#1e1e1e" stroke-width="4" stroke-linecap="round"/><path d="M1765.0,1588.0 C1764.5,1590.0 1763.2,1596.6 1762.0,1600.0 C1760.8,1603.4 1762.1,1604.4 1757.6,1608.6 C1753.1,1612.8 1743.4,1620.4 1735.0,1625.0 C1726.6,1629.6 1719.5,1632.6 1707.0,1636.4 C1694.5,1640.2 1676.8,1644.6 1660.0,1648.0 C1643.2,1651.4 1625.2,1654.3 1606.0,1656.6 C1586.8,1658.9 1565.2,1660.5 1545.0,1662.0 C1524.8,1663.5 1501.5,1664.7 1484.8,1665.7 C1468.1,1666.7 1451.6,1667.6 1445.0,1668.0" fill="none" stroke="#fff" stroke-width="1.4"/>
<path d="M1514.8,1688.0 C1507.3,1684.7 1482.3,1673.2 1470.0,1668.0 C1457.7,1662.8 1451.8,1661.2 1441.0,1657.0 C1430.2,1652.8 1417.0,1646.2 1405.0,1643.0 C1393.0,1639.8 1381.1,1637.8 1369.0,1638.0 C1356.9,1638.2 1344.4,1639.5 1332.6,1644.0 C1320.8,1648.5 1308.1,1654.7 1298.0,1665.0 C1287.9,1675.3 1278.5,1693.5 1271.8,1706.0 C1265.1,1718.5 1262.3,1729.7 1258.0,1740.0 C1253.7,1750.3 1249.6,1756.0 1245.8,1768.0 C1242.0,1780.0 1238.4,1797.3 1235.2,1812.0 C1232.0,1826.7 1229.3,1841.3 1226.4,1856.0 C1223.5,1870.7 1220.2,1885.2 1217.6,1900.0 C1214.9,1914.8 1213.4,1931.2 1210.5,1944.5 C1207.6,1957.8 1202.3,1971.2 1200.0,1980.0 C1197.7,1988.8 1197.0,1994.2 1196.4,1997.0" fill="none" stroke="#1e1e1e" stroke-width="19.5" stroke-linecap="round"/>
<path d="M1514.8,1688.0 C1507.3,1684.7 1482.3,1673.2 1470.0,1668.0 C1457.7,1662.8 1451.8,1661.2 1441.0,1657.0 C1430.2,1652.8 1417.0,1646.2 1405.0,1643.0 C1393.0,1639.8 1381.1,1637.8 1369.0,1638.0 C1356.9,1638.2 1344.4,1639.5 1332.6,1644.0 C1320.8,1648.5 1308.1,1654.7 1298.0,1665.0 C1287.9,1675.3 1278.5,1693.5 1271.8,1706.0 C1265.1,1718.5 1262.3,1729.7 1258.0,1740.0 C1253.7,1750.3 1249.6,1756.0 1245.8,1768.0 C1242.0,1780.0 1238.4,1797.3 1235.2,1812.0 C1232.0,1826.7 1229.3,1841.3 1226.4,1856.0 C1223.5,1870.7 1220.2,1885.2 1217.6,1900.0 C1214.9,1914.8 1213.4,1931.2 1210.5,1944.5 C1207.6,1957.8 1202.3,1971.2 1200.0,1980.0 C1197.7,1988.8 1197.0,1994.2 1196.4,1997.0" fill="none" stroke="url(#chk)" stroke-width="13"/>
<path class="m" d="M1187.6,1997.4 Q1182,2010 1178.8,2015 Q1172,2022 1161.2,2025.6 M1191,1999 Q1186,2012 1181,2018 Q1175,2025 1164,2029 M1198.2,2000.9 Q1195,2015 1191.1,2023.8 Q1187,2030 1182.3,2032.6 M1202,2001 Q1199,2016 1195,2025 Q1191,2032 1186,2035"/>
<!-- 316 wire -->

<path class="k" d="M1757,1553 L1772,1553 L1774.7,1590 L1758,1592 Z"/>
<path class="m" d="M1760,1558 L1761,1588"/>
<!-- terminal wires -->
<path class="m" d="M1440,1668 Q1390,1680 1368,1698 Q1356,1712 1354,1730 L1350,1762 M1443,1671 Q1394,1683 1371,1700 Q1359,1714 1357,1731 L1353,1762"/>
<path class="k" d="M1343,1762 L1362,1762 L1362,1788 Q1352,1793 1343,1788 Z M1347,1762 L1347,1754 L1358,1754 L1358,1762"/>
<path class="m" d="M1497,1699 L1494,1759.8"/>
<path class="k" d="M1484,1760 L1503,1760 L1503,1780 L1498,1800 L1488,1800 L1484,1780 Z M1488,1760 L1488,1752 L1499,1752 L1499,1760"/>
<path class="m" d="M1506,1694 Q1520,1705 1530,1728.8"/>
<path class="k" d="M1529,1729 L1549,1726 L1553,1766 L1533,1769 Z M1536,1740 L1538,1766 M1544,1739 L1546,1765"/>
</g>
<!-- screws 319 (lower) & 320 -->
<g id="screws">
<g transform="translate(1111,2110) rotate(-45) scale(0.9)"><path class="m" d="M12,-5.5 L30,-5.5 Q34,-5.5 34,0 Q34,5.5 30,5.5 L12,5.5" fill="#fff"/><path class="t" d="M20,-5.5 Q22,0 20,5.5 M24,-5.5 Q26,0 24,5.5 M28,-5.5 Q30,0 28,5.5"/><ellipse class="m" cx="8" cy="0" rx="5" ry="13.5" fill="#fff"/><ellipse class="m" cx="3" cy="0" rx="9" ry="12.5" fill="#fff"/><circle class="m" cx="0" cy="0" r="10" fill="#fff"/><path class="t" d="M-5,-5 L1,-7 L6,-3 L6,4 L0,7 L-6,3 Z M-3,-2 L1,0 L-1,3"/></g>
<g transform="translate(338,1777) rotate(-45) scale(1.0)"><path class="m" d="M12,-5.5 L30,-5.5 Q34,-5.5 34,0 Q34,5.5 30,5.5 L12,5.5" fill="#fff"/><path class="t" d="M20,-5.5 Q22,0 20,5.5 M24,-5.5 Q26,0 24,5.5 M28,-5.5 Q30,0 28,5.5"/><ellipse class="m" cx="8" cy="0" rx="5" ry="13.5" fill="#fff"/><ellipse class="m" cx="3" cy="0" rx="9" ry="12.5" fill="#fff"/><circle class="m" cx="0" cy="0" r="10" fill="#fff"/><path class="t" d="M-5,-5 L1,-7 L6,-3 L6,4 L0,7 L-6,3 Z M-3,-2 L1,0 L-1,3"/></g>
<g transform="translate(486,951)"><path class="k" d="M-26,-6 L-12,-4 L-12,5 L-26,3 Q-29,-1 -26,-6 Z"/><path class="m" d="M-22,-5 L-22,4 M-18,-5 L-18,4"/><ellipse class="k" cx="-6" cy="0" rx="5" ry="10" fill="#fff"/><ellipse class="k" cx="2" cy="0" rx="9" ry="10" fill="#fff"/><path class="t" d="M-3,-4 L2,-7 L7,-4 L7,3 L2,6 L-3,3 Z"/></g>
<g transform="translate(1157.2,1497.4)"><path class="k" d="M8,-5.5 L21,-4 L28.5,0 L21,4 L8,5.5"/><path class="m" d="M12,-5 L12,5 M16,-4.5 L16,4.5 M20,-4 L20,4"/><circle class="k" cx="0" cy="0" r="8.3" fill="#fff"/><path class="m" d="M-2.5,-4.5 L-2.5,4.5 M-2.5,0.5 L3,-4 M-2,0 L3,4"/></g>
<ellipse class="k" cx="1200.4" cy="1498.6" rx="5.5" ry="7.2"/><ellipse class="t" cx="1200.4" cy="1498.6" rx="2" ry="4.5"/>
</g>
<!-- ===== labels ===== -->
<g id="labels" text-anchor="middle">
<circle cx="807" cy="91" r="31.5" fill="none" stroke="#1e1e1e" stroke-width="1.4"/>
<text x="807" y="102.5" textLength="51" lengthAdjust="spacingAndGlyphs">307</text>
<text x="929" y="128.8" textLength="51" lengthAdjust="spacingAndGlyphs">309</text>
<text x="632" y="213.8" textLength="51" lengthAdjust="spacingAndGlyphs">310</text>
<text x="635" y="276.3" textLength="51" lengthAdjust="spacingAndGlyphs">308</text>
<text x="840.5" y="501.3" textLength="51" lengthAdjust="spacingAndGlyphs">306</text>
<text x="1048" y="343.8" textLength="51" lengthAdjust="spacingAndGlyphs">305</text>
<text x="1367" y="230" textLength="51" lengthAdjust="spacingAndGlyphs">304</text>
<text x="1503" y="218.5" textLength="51" lengthAdjust="spacingAndGlyphs">301</text>
<text x="1826.5" y="204.5" textLength="51" lengthAdjust="spacingAndGlyphs">319</text>
<text x="1832" y="508" textLength="51" lengthAdjust="spacingAndGlyphs">302</text>
<text x="1425" y="545.5" textLength="51" lengthAdjust="spacingAndGlyphs">303</text>
<text x="612" y="825" textLength="51" lengthAdjust="spacingAndGlyphs">312</text>
<text x="429.5" y="1017.5" textLength="51" lengthAdjust="spacingAndGlyphs">319</text>
<text x="1527" y="1134.8" textLength="51" lengthAdjust="spacingAndGlyphs">311</text>
<text x="303" y="1295" textLength="51" lengthAdjust="spacingAndGlyphs">313</text>
<text x="641" y="1452.5" textLength="51" lengthAdjust="spacingAndGlyphs">315</text>
<text x="1143" y="1576" textLength="51" lengthAdjust="spacingAndGlyphs">320</text>
<text x="400" y="1846" textLength="51" lengthAdjust="spacingAndGlyphs">319</text>
<text x="546.5" y="1925" textLength="51" lengthAdjust="spacingAndGlyphs">314</text>
<text x="1728" y="1757.4" textLength="51" lengthAdjust="spacingAndGlyphs">316</text>
<text x="1649.5" y="1924.2" textLength="51" lengthAdjust="spacingAndGlyphs">318</text>
<text x="1671" y="2112.6" textLength="51" lengthAdjust="spacingAndGlyphs">317</text>
<text x="1157" y="2174.5" textLength="51" lengthAdjust="spacingAndGlyphs">319</text>
</g>
<g id="leaders">
<path class="t" d="M795,122.5 L766.25,157 M917,137 L874.5,184.5 M673.75,205.75 L729.5,178.75 M675.5,258.75 L757,201.25 M847,468.75 L890,408.75 M1082,337.5 L1121,360 M1372,239.5 L1342,273.75 M1501.6,225.4 L1520.2,272.7 M1831.4,217 L1817.5,251.9 M1831.4,217 L1849.5,315.9 M1831.4,469 L1782.7,427.2 M1433.4,513.5 L1512.7,466.2 M618.75,850.5 L648.75,928.75 M428.4,990.8 L464.1,951.9 M1457.9,1060.5 L1524.7,1103.6 M356.25,1273.75 L437.5,1245 M672.8,1467.7 L702.6,1504.4 M365,1764 L393,1805 M582,1823 L551.5,1897 M1727,1726.4 L1684,1657 M1615,1914.7 L1567,1910 M1636.4,2096 L1576.8,2069.7 M1145,2131.6 L1121.5,2107.8"/>
</g>
<!-- ===== dashed lines ===== -->
<g id="dash">
<path class="d" d="M1161,582.5 L947,715 L1524.5,890 L900.3,1393.7 L747.3,1516.1"/>
<path class="d" d="M1229.5,1086 L830,1404.4 L468.8,1681.4 L400,1734"/>
<path class="d" d="M1658,479 L1658,1202.5 L1336,1494"/>
<path class="d" d="M1767,441 L1767,1555"/>
<path class="d" d="M822,1530 L778,1568 L1214.5,1734 L1214.5,2030"/>
<path class="d" d="M352.5,907.5 L410,1137.5"/>
<path class="d" d="M335,1113.75 L406.25,1136.25"/>
<path class="d" d="M1136,471 L1156,477.5 L1303.5,386 L1326,392.5"/>
<path class="d" d="M1778.5,296.4 L1800.8,279.7 M1800.8,366 L1832.8,338"/>
<path class="d" d="M1143,2084 L1160,2074"/>
</g>

</svg>
</body></html>
